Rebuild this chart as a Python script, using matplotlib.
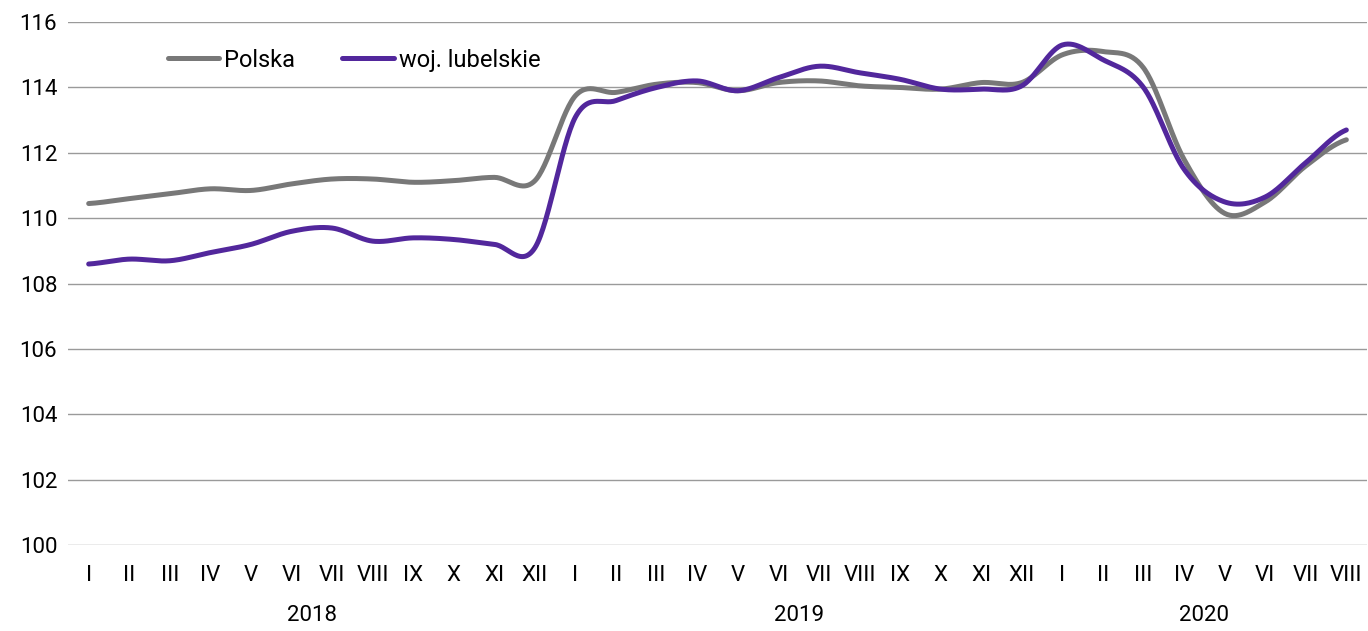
import numpy as np
import matplotlib.pyplot as plt

months = ["I", "II", "III", "IV", "V", "VI", "VII", "VIII", "IX", "X", "XI", "XII",
          "I", "II", "III", "IV", "V", "VI", "VII", "VIII", "IX", "X", "XI", "XII",
          "I", "II", "III", "IV", "V", "VI", "VII", "VIII"]
years = ["2018", "2019", "2020"]
polska = [110.45, 110.6, 110.75, 110.9, 110.85, 111.05, 111.2, 111.2, 111.1, 111.15, 111.25, 111.15,
          113.75, 113.85, 114.1, 114.15, 113.9, 114.15, 114.2, 114.05, 114.0, 113.95, 114.15, 114.15,
          115.0, 115.1, 114.6, 111.8, 110.15, 110.5, 111.6, 112.4]
lubelskie = [108.6, 108.75, 108.7, 108.95, 109.2, 109.6, 109.7, 109.3, 109.4, 109.35, 109.2, 109.1,
             113.1, 113.6, 114.0, 114.2, 113.9, 114.3, 114.65, 114.45, 114.25, 113.95, 113.95, 114.05,
             115.3, 114.85, 114.0, 111.5, 110.5, 110.65, 111.7, 112.7]


def smooth(y, n=30):
    # Catmull-Rom curve through the points, like the smoothed line in Excel
    y = np.asarray(y, dtype=float)
    p = np.concatenate([[y[0]], y, [y[-1]]])
    xs, ys = [], []
    t = np.linspace(0, 1, n, endpoint=False)
    for i in range(len(y) - 1):
        p0, p1, p2, p3 = p[i], p[i + 1], p[i + 2], p[i + 3]
        c = 0.5 * ((2 * p1) + (-p0 + p2) * t + (2 * p0 - 5 * p1 + 4 * p2 - p3) * t ** 2
                   + (-p0 + 3 * p1 - 3 * p2 + p3) * t ** 3)
        xs.append(i + t)
        ys.append(c)
    xs.append([len(y) - 1])
    ys.append([y[-1]])
    return np.concatenate(xs), np.concatenate(ys)


plt.rcParams['font.family'] = ['Roboto', 'DejaVu Sans']

fig = plt.figure(figsize=(13.68, 6.31), dpi=100)
ax = fig.add_axes([0.05, 0.136, 0.949, 0.829])

grey = "#787878"
purple = "#52279c"

x, y = smooth(polska)
ax.plot(x, y, color=grey, lw=3.6, solid_capstyle='round', label="Polska", zorder=3)
x, y = smooth(lubelskie)
ax.plot(x, y, color=purple, lw=3.6, solid_capstyle='round', label="woj. lubelskie", zorder=4)

ax.set_xlim(-0.5, len(months) - 0.5)
ax.set_ylim(100, 116)
ax.set_yticks(np.arange(100, 117, 2))
ax.yaxis.grid(True, color="#9a9a9a", lw=1)
ax.set_axisbelow(True)
for s in ax.spines.values():
    s.set_visible(False)
ax.tick_params(length=0, labelsize=16)
ax.tick_params(axis='y', pad=8)
ax.tick_params(axis='x', pad=14)
ax.set_xticks(range(len(months)))
ax.set_xticklabels(months)

centers = [5.5, 17.5, 27.5]
for c, yr in zip(centers, years):
    ax.text(c, -0.135, yr, transform=ax.get_xaxis_transform(), ha='center', va='center', fontsize=16)

ax.legend(loc='upper left', bbox_to_anchor=(0.06, 0.99), ncol=2, frameon=False, fontsize=17,
          handlelength=2.2, handletextpad=0.2, columnspacing=2.0)

fig.savefig("out.png", dpi=100)
